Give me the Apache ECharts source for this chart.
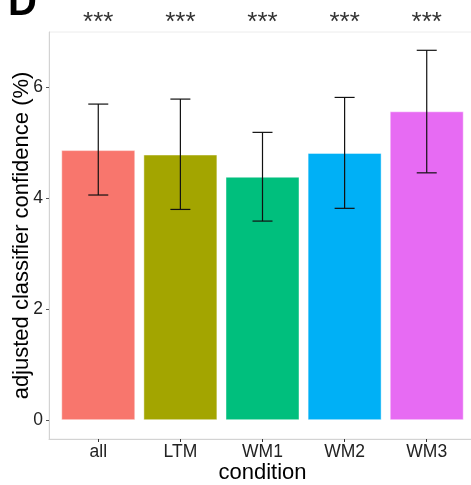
<!DOCTYPE html>
<html>
<head>
<meta charset="utf-8">
<script src="https://cdn.jsdelivr.net/npm/echarts@6/dist/echarts.min.js"></script>
<style>
  html, body { margin: 0; padding: 0; background: #fff; }
  #chart { width: 471px; height: 485px; }
</style>
</head>
<body>
<div id="chart"></div>
<script>
// data
const categories = ['all', 'LTM', 'WM1', 'WM2', 'WM3'];
const means = [4.87, 4.79, 4.39, 4.82, 5.57];
const errLow = [4.06, 3.80, 3.59, 3.82, 4.46];
const errHigh = [5.70, 5.79, 5.19, 5.82, 6.67];
const stars = ['***', '***', '***', '***', '***'];
const yTicks = [0, 2, 4, 6];
const colors = ['#F8766D', '#A3A500', '#00BF7D', '#00B0F6', '#E76BF3'];

const FONT = '"Liberation Sans", Arial, sans-serif';
const xPos = categories.map((c, i) => i + 1);

const chart = echarts.init(document.getElementById('chart'));

const option = {
  animation: false,
  backgroundColor: '#fff',
  textStyle: { fontFamily: FONT },
  graphic: [{
    type: 'text',
    left: 8,
    top: -16,
    style: { text: 'D', font: 'bold 40px ' + FONT, fill: '#000' }
  }],
  grid: {
    left: 49, right: -5, top: 32, bottom: 46,
    outerBoundsMode: 'none',
    show: true, borderColor: '#ececec', borderWidth: 1
  },
  xAxis: [{
    type: 'value',
    min: 0.4, max: 5.6,
    name: 'condition',
    nameLocation: 'middle',
    nameGap: 23,
    nameMoveOverlap: false,
    nameTextStyle: { fontSize: 22, color: '#000', fontFamily: FONT, verticalAlign: 'top' },
    axisLine: { onZero: false, lineStyle: { color: '#d3d3d3', width: 1 } },
    axisTick: { show: true, customValues: xPos, length: 3, lineStyle: { color: '#333' } },
    axisLabel: {
      customValues: xPos, margin: 4, fontSize: 17.5, color: '#222',
      formatter: v => categories[Math.round(v) - 1]
    },
    splitLine: { show: false }
  }, {
    type: 'value',
    position: 'top',
    min: 0.4, max: 5.6,
    axisLine: { show: false },
    axisTick: { show: false },
    axisLabel: {
      customValues: xPos, margin: -4, fontSize: 26, color: '#333',
      formatter: v => stars[Math.round(v) - 1]
    },
    splitLine: { show: false }
  }],
  yAxis: {
    type: 'value',
    min: -0.34, max: 7.0,
    name: 'adjusted classifier confidence (%)',
    nameLocation: 'middle',
    nameGap: 16,
    nameMoveOverlap: false,
    nameTextStyle: { fontSize: 22, color: '#000', fontFamily: FONT },
    axisLine: { show: true, onZero: false, lineStyle: { color: '#d3d3d3', width: 1 } },
    axisTick: { show: true, customValues: yTicks, length: 3, lineStyle: { color: '#555' } },
    axisLabel: { customValues: yTicks, margin: 6, fontSize: 17.5, color: '#222' },
    splitLine: { show: false }
  },
  series: [{
    type: 'bar',
    barWidth: 74,
    data: means.map((m, i) => ({
      value: [xPos[i], m],
      itemStyle: { color: colors[i], borderColor: 'rgba(255,255,255,0.45)', borderWidth: 1 }
    }))
  }, {
    type: 'custom',
    data: xPos.map((x, i) => [x, errLow[i], errHigh[i]]),
    encode: { x: 0, y: [1, 2] },
    renderItem: (params, api) => {
      const lo = api.coord([api.value(0), api.value(1)]);
      const hi = api.coord([api.value(0), api.value(2)]);
      const cap = 10;
      const style = { stroke: '#111', lineWidth: 1.2 };
      return {
        type: 'group',
        children: [
          { type: 'line', shape: { x1: lo[0], y1: lo[1], x2: hi[0], y2: hi[1] }, style },
          { type: 'line', shape: { x1: hi[0] - cap, y1: hi[1], x2: hi[0] + cap, y2: hi[1] }, style },
          { type: 'line', shape: { x1: lo[0] - cap, y1: lo[1], x2: lo[0] + cap, y2: lo[1] }, style }
        ]
      };
    },
    z: 5
  }]
};

chart.setOption(option);
</script>
</body>
</html>
